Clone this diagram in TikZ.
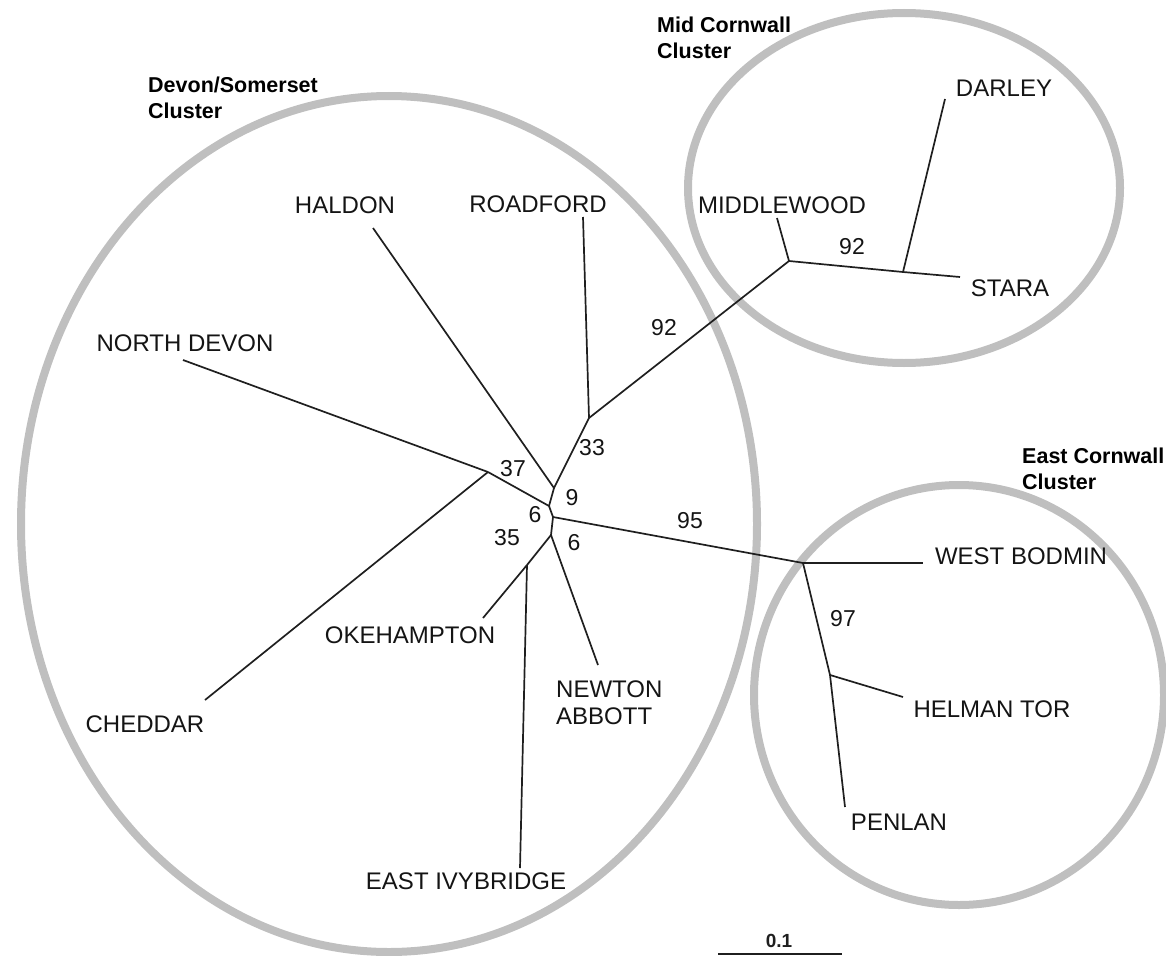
\documentclass[tikz,border=0pt]{standalone}
\usepackage{fontspec}
\setmainfont{Liberation Sans}
\begin{document}
\begin{tikzpicture}[x=1pt,y=-1pt,
  lbl/.style={font=\fontsize{24}{27}\selectfont, text=black!92, inner sep=0pt},
  num/.style={font=\fontsize{23}{27}\selectfont, text=black!92, inner sep=0pt},
  clus/.style={font=\bfseries\fontsize{21.5}{26}\selectfont, align=left, inner sep=0pt, anchor=west},
  br/.style={line width=1.7pt, draw=black!88},
  ring/.style={draw=black!25, line width=8pt}]
\useasboundingbox (0,0) rectangle (1166,955);
% cluster rings
\draw[ring] (389,524) ellipse [x radius=368, y radius=428];
\draw[ring] (904,188) ellipse [x radius=216, y radius=175];
\draw[ring] (959,695) ellipse [x radius=205, y radius=210];
% internal nodes
\coordinate (n33) at (589,418);
\coordinate (n9) at (554,488);
\coordinate (n37) at (488,472);
\coordinate (n6a) at (549,506);
\coordinate (nroot) at (553,517);
\coordinate (n6b) at (551,535);
\coordinate (n35) at (527,565);
\coordinate (nmid) at (789,261);
\coordinate (nsd) at (903,272);
\coordinate (nwb) at (803,563);
\coordinate (nhp) at (830,675);
% tips
\coordinate (tHal) at (373,228);
\coordinate (tRoa) at (583,217);
\coordinate (tMid) at (777,218);
\coordinate (tDar) at (945,99);
\coordinate (tSta) at (960,277);
\coordinate (tNor) at (183,360);
\coordinate (tChe) at (205,700);
\coordinate (tOke) at (483,618);
\coordinate (tIvy) at (520,868);
\coordinate (tNew) at (598,665);
\coordinate (tWes) at (923,563);
\coordinate (tHel) at (903,697);
\coordinate (tPen) at (845,807);
% branches
\draw[br] (tHal) -- (n9);
\draw[br] (tRoa) -- (n33);
\draw[br] (n33) -- (n9);
\draw[br] (n33) -- (nmid);
\draw[br] (tMid) -- (nmid);
\draw[br] (nmid) -- (nsd);
\draw[br] (tDar) -- (nsd);
\draw[br] (nsd) -- (tSta);
\draw[br] (tNor) -- (n37);
\draw[br] (tChe) -- (n37);
\draw[br] (n37) -- (n6a);
\draw[br] (n9) -- (n6a);
\draw[br] (n6a) -- (nroot);
\draw[br] (nroot) -- (n6b);
\draw[br] (n6b) -- (n35);
\draw[br] (n35) -- (tOke);
\draw[br] (n35) -- (tIvy);
\draw[br] (n6b) -- (tNew);
\draw[br] (nroot) -- (nwb);
\draw[br] (nwb) -- (tWes);
\draw[br] (nwb) -- (nhp);
\draw[br] (nhp) -- (tHel);
\draw[br] (nhp) -- (tPen);
% leaf labels
\node[lbl] (lHal) at (345,205) {HALDON};
\node[lbl] (lRoa) at (538,204) {ROADFORD};
\node[lbl] (lMid) at (782,205) {MIDDLEWOOD};
\node[lbl] (lDar) at (1004,88) {DARLEY};
\node[lbl] (lSta) at (1010,288) {STARA};
\node[lbl] (lNor) at (185,343) {NORTH DEVON};
\node[lbl] (lWes) at (1021,556) {WEST BODMIN};
\node[lbl] (lHel) at (992,709) {HELMAN TOR};
\node[lbl] (lPen) at (899,822) {PENLAN};
\node[lbl] (lOke) at (410,635) {OKEHAMPTON};
\node[lbl] (lChe) at (145,724) {CHEDDAR};
\node[lbl, align=left, anchor=west] (lNew) at (556,703) {NEWTON\\ABBOTT};
\node[lbl] (lIvy) at (466,881) {EAST IVYBRIDGE};
% bootstrap values
\node[num] (b92a) at (852,247) {92};
\node[num] (b92b) at (664,328) {92};
\node[num] (b33) at (592,448) {33};
\node[num] (b37) at (513,469) {37};
\node[num] (b9) at (572,498) {9};
\node[num] (b6a) at (535,515) {6};
\node[num] (b35) at (507,538) {35};
\node[num] (b6b) at (574,543) {6};
\node[num] (b95) at (690,521) {95};
\node[num] (b97) at (843,619) {97};
% cluster names
\node[clus] (cDev) at (148,98) {Devon/Somerset\\Cluster};
\node[clus] (cMid) at (657,38) {Mid Cornwall\\Cluster};
\node[clus] (cEas) at (1022,469) {East Cornwall\\Cluster};
% scale bar
\coordinate (sb1) at (718,954);
\coordinate (sb2) at (842,954);
\draw[line width=1.8pt, black!88] (sb1) -- (sb2);
\node[font=\bfseries\fontsize{19}{22}\selectfont, inner sep=0pt, text=black!88] (sbl) at (779,941) {0.1};
\end{tikzpicture}
\end{document}
